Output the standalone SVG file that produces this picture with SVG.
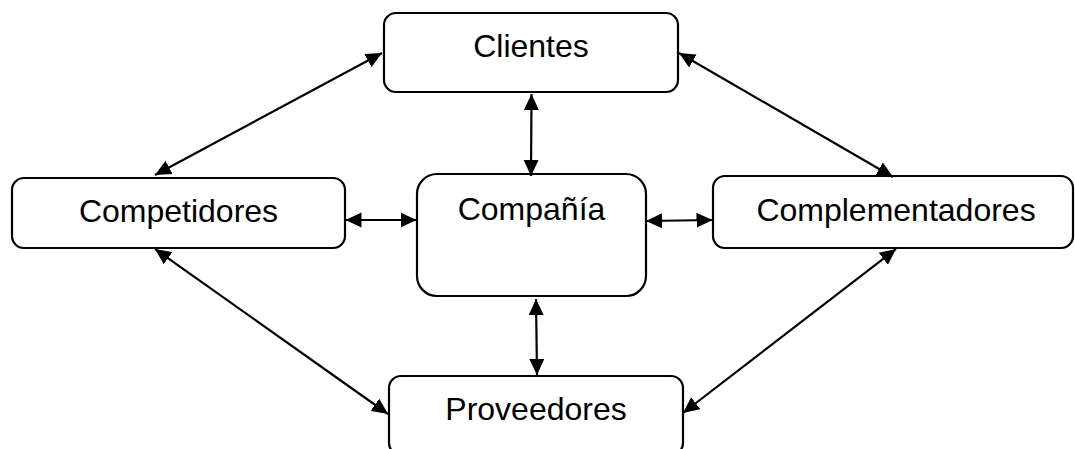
<svg xmlns="http://www.w3.org/2000/svg" width="1075" height="449" viewBox="0 0 1075 449">
  <style>
    .box { fill: #ffffff; stroke: #000000; stroke-width: 2.2; }
    .label { font-family: "Liberation Sans", Arial, sans-serif; font-size: 32px; fill: #000000; text-anchor: middle; }
    .link { stroke: #000000; stroke-width: 2.2; fill: none; marker-start: url(#head); marker-end: url(#head); }
  </style>
  <defs>
    <!-- solid triangular head used at both ends of every connector -->
    <marker id="head" markerUnits="userSpaceOnUse" markerWidth="16" markerHeight="16" refX="16" refY="8" orient="auto-start-reverse">
      <path d="M0,0.5 L16,8 L0,15.5 Z" fill="#000000"/>
    </marker>
  </defs>

  <rect width="1075" height="449" fill="#ffffff"/>

  <g id="clientes">
    <rect class="box" x="384" y="13" width="294" height="79" rx="12" ry="12"/>
    <text class="label" x="531" y="57">Clientes</text>
  </g>

  <g id="competidores">
    <rect class="box" x="12" y="178" width="333" height="70" rx="12" ry="12"/>
    <text class="label" x="178.5" y="222">Competidores</text>
  </g>

  <g id="compania">
    <rect class="box" x="417" y="174" width="229" height="122" rx="20" ry="20"/>
    <text class="label" x="531.5" y="220">Compañía</text>
  </g>

  <g id="complementadores">
    <rect class="box" x="713" y="176" width="360" height="72" rx="12" ry="12"/>
    <text class="label" x="896" y="221">Complementadores</text>
  </g>

  <g id="proveedores">
    <rect class="box" x="389" y="376" width="294" height="79" rx="12" ry="12"/>
    <text class="label" x="536" y="420">Proveedores</text>
  </g>

  <g id="connectors">
    <line class="link" x1="155" y1="175" x2="382" y2="53"/>
    <line class="link" x1="679" y1="53" x2="893" y2="177"/>
    <line class="link" x1="531.5" y1="94" x2="531" y2="176"/>
    <line class="link" x1="345.5" y1="220" x2="416.5" y2="220"/>
    <line class="link" x1="646" y1="221" x2="712.5" y2="220"/>
    <line class="link" x1="536" y1="299" x2="537" y2="375"/>
    <line class="link" x1="155" y1="249" x2="388" y2="414"/>
    <line class="link" x1="896" y1="249" x2="683" y2="413"/>
  </g>
</svg>
